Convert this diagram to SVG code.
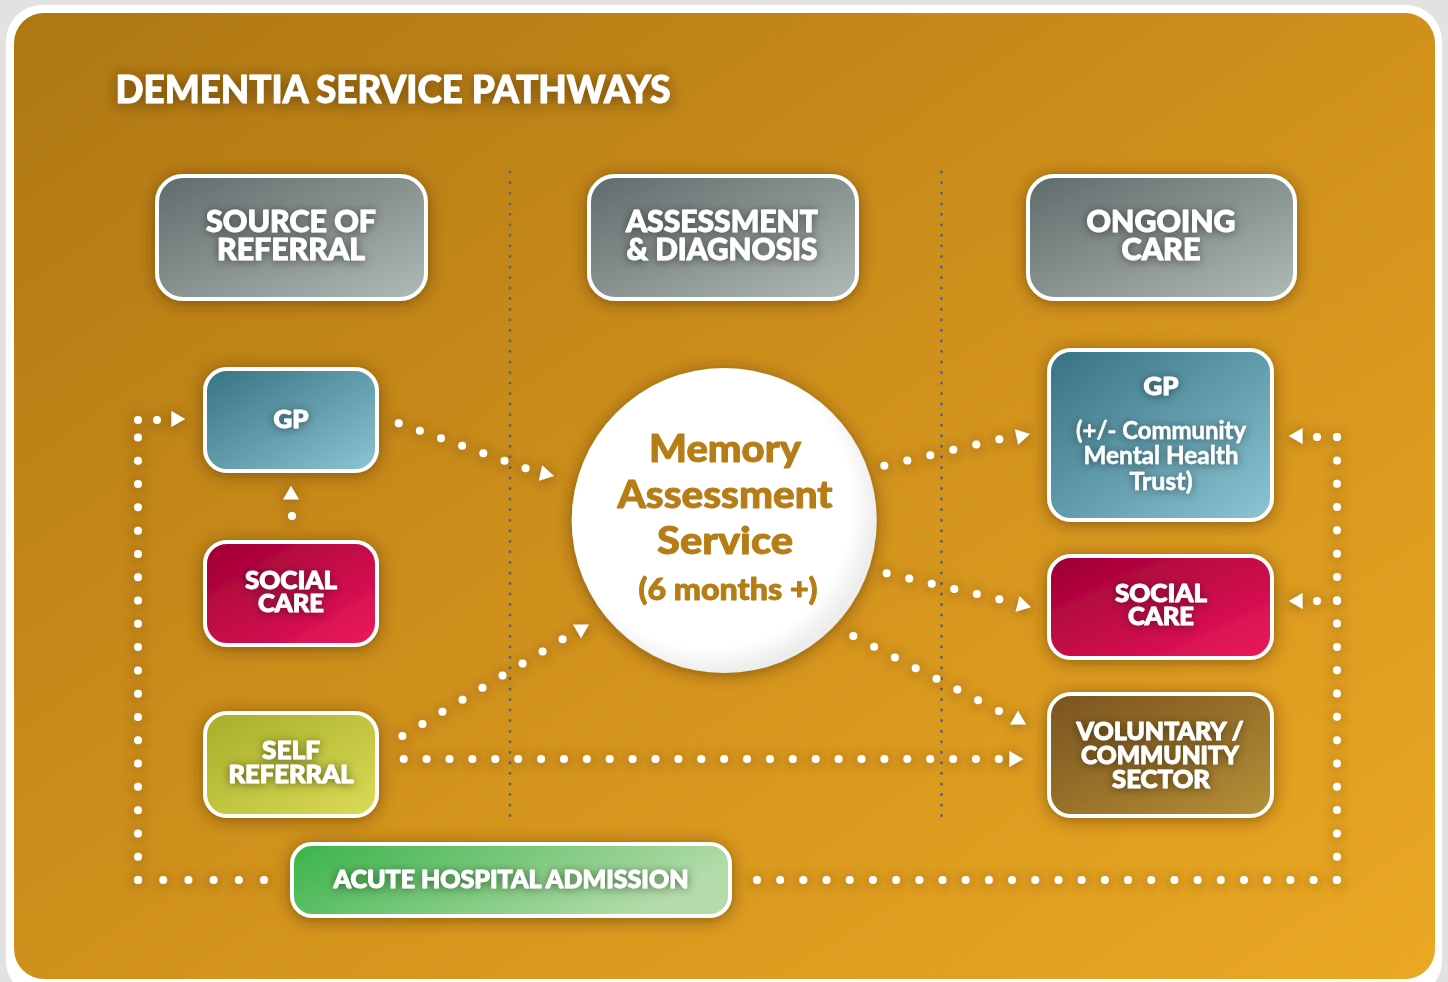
<svg xmlns="http://www.w3.org/2000/svg" xmlns:xlink="http://www.w3.org/1999/xlink" width="1448" height="982" viewBox="0 0 1448 982">
  <defs>
    <linearGradient id="bg" x1="0" y1="0" x2="1" y2="1">
      <stop offset="0" stop-color="#ae7712"/>
      <stop offset="0.5" stop-color="#d0911c"/>
      <stop offset="1" stop-color="#eaa823"/>
    </linearGradient>
    <linearGradient id="gGray" x1="0" y1="0" x2="1" y2="1">
      <stop offset="0" stop-color="#5f6a6a"/>
      <stop offset="1" stop-color="#b0bab7"/>
    </linearGradient>
    <linearGradient id="gBlue" x1="0" y1="0" x2="1" y2="1">
      <stop offset="0" stop-color="#377282"/>
      <stop offset="1" stop-color="#8cc5d4"/>
    </linearGradient>
    <linearGradient id="gRed" x1="0" y1="0" x2="1" y2="1">
      <stop offset="0" stop-color="#9c0034"/>
      <stop offset="1" stop-color="#ee185c"/>
    </linearGradient>
    <linearGradient id="gLime" x1="0" y1="0" x2="1" y2="1">
      <stop offset="0" stop-color="#a6ae28"/>
      <stop offset="1" stop-color="#dbdb57"/>
    </linearGradient>
    <linearGradient id="gBrown" x1="0" y1="0" x2="1" y2="1">
      <stop offset="0" stop-color="#7a531e"/>
      <stop offset="1" stop-color="#b69036"/>
    </linearGradient>
    <linearGradient id="gGreen" x1="0" y1="0" x2="1" y2="0.3">
      <stop offset="0" stop-color="#39b349"/>
      <stop offset="1" stop-color="#b4dcaa"/>
    </linearGradient>
    <radialGradient id="gCircle" cx="0.45" cy="0.45" r="0.55">
      <stop offset="0.85" stop-color="#ffffff"/>
      <stop offset="1" stop-color="#ededed"/>
    </radialGradient>

    <!-- soft dark halos -->
    <filter id="shadow" x="-30%" y="-30%" width="160%" height="160%">
      <feDropShadow dx="0" dy="2" stdDeviation="8" flood-color="#4a2c00" flood-opacity="0.55"/>
    </filter>
    <filter id="dotShadow" x="-10%" y="-10%" width="120%" height="120%">
      <feDropShadow dx="0" dy="1" stdDeviation="6" flood-color="#4a2c00" flood-opacity="0.6"/>
    </filter>
    <filter id="glow" x="-20%" y="-40%" width="140%" height="180%">
      <feDropShadow dx="0" dy="1" stdDeviation="5" flood-color="#000" flood-opacity="0.5"/>
    </filter>
    <filter id="titleGlow" x="-10%" y="-60%" width="120%" height="220%">
      <feDropShadow dx="0" dy="2" stdDeviation="7" flood-color="#3c2400" flood-opacity="0.65"/>
    </filter>

    <path id="ah" d="M9.2,0 L-4.6,8 L-4.6,-8 Z" fill="#fff"/>
  </defs>

  <style>
    .box { stroke: #ffffff; stroke-width: 4; }
    .lbl { font-family: Lato, "Open Sans", "Liberation Sans", sans-serif; font-weight: 900; fill: #ffffff; stroke: #ffffff; stroke-width: 0.9; stroke-linejoin: round; text-anchor: middle; }
    .lbl.thin { font-weight: 700; stroke-width: 0.4; }
    .mas { font-family: Lato, "Open Sans", "Liberation Sans", sans-serif; font-weight: 900; fill: #b67d16; stroke: #b67d16; stroke-width: 0.9; stroke-linejoin: round; text-anchor: middle; }
    .dots { fill: none; stroke: #ffffff; stroke-width: 8; stroke-linecap: round; }
    .guide { fill: none; stroke: #5b6770; stroke-width: 3; stroke-linecap: round; stroke-dasharray: 0 10.55; }
  </style>

  <!-- frame -->
  <rect x="0" y="0" width="1448" height="982" fill="#e2e2e2"/>
  <rect x="6" y="5" width="1436" height="992" rx="36" fill="#ffffff"/>
  <rect x="14" y="13" width="1421" height="966" rx="30" fill="url(#bg)"/>

  <!-- title -->
  <text class="lbl" x="393" y="103" font-size="38" stroke-width="1.2" textLength="555" lengthAdjust="spacingAndGlyphs" filter="url(#titleGlow)">DEMENTIA SERVICE PATHWAYS</text>

  <!-- column separators -->
  <g id="separators">
    <path class="guide" d="M510,172 V816"/>
    <path class="guide" d="M941.5,172 V816"/>
  </g>

  <!-- column headers -->
  <g id="hdr-source" filter="url(#shadow)">
    <rect class="box" x="157" y="176" width="269" height="123" rx="26" fill="url(#gGray)"/>
    <g filter="url(#glow)">
      <text class="lbl" x="291" y="232" font-size="30" textLength="170" lengthAdjust="spacingAndGlyphs">SOURCE OF</text>
      <text class="lbl" x="291" y="260" font-size="30" textLength="148" lengthAdjust="spacingAndGlyphs">REFERRAL</text>
    </g>
  </g>
  <g id="hdr-assessment" filter="url(#shadow)">
    <rect class="box" x="589" y="176" width="268" height="123" rx="26" fill="url(#gGray)"/>
    <g filter="url(#glow)">
      <text class="lbl" x="722" y="232" font-size="30" textLength="192" lengthAdjust="spacingAndGlyphs">ASSESSMENT</text>
      <text class="lbl" x="722" y="260" font-size="30" textLength="191" lengthAdjust="spacingAndGlyphs">&amp; DIAGNOSIS</text>
    </g>
  </g>
  <g id="hdr-ongoing" filter="url(#shadow)">
    <rect class="box" x="1028" y="176" width="267" height="123" rx="26" fill="url(#gGray)"/>
    <g filter="url(#glow)">
      <text class="lbl" x="1161" y="232" font-size="30" textLength="149" lengthAdjust="spacingAndGlyphs">ONGOING</text>
      <text class="lbl" x="1161" y="260" font-size="30" textLength="79" lengthAdjust="spacingAndGlyphs">CARE</text>
    </g>
  </g>

  <!-- connectors -->
  <g id="connectors" filter="url(#dotShadow)">
    <!-- acute admission back to GP (left loop) -->
    <path class="dots" d="M264,880 H138" stroke-dasharray="0 25.19"/>
    <path class="dots" d="M138,880 V437" stroke-dasharray="0 23.29"/>
    <path class="dots" d="M138,420 H157" stroke-dasharray="0 18.99"/>
    <use href="#ah" transform="translate(176,419)"/>
    <!-- social care to GP -->
    <circle cx="292" cy="516" r="4" fill="#fff"/>
    <use href="#ah" transform="translate(291,495) rotate(-90)"/>
    <!-- GP to memory service -->
    <path class="dots" d="M398.7,423.3 L525.7,468.3" stroke-dasharray="0 22.44"/>
    <use href="#ah" transform="translate(545,474) rotate(12)"/>
    <!-- self referral to memory service -->
    <path class="dots" d="M402.4,736 L562.7,639.3" stroke-dasharray="0 23.39"/>
    <use href="#ah" transform="translate(581,629) rotate(90)"/>
    <!-- self referral to voluntary sector -->
    <path class="dots" d="M403.7,759 H999" stroke-dasharray="0 22.89"/>
    <use href="#ah" transform="translate(1014,759)"/>
    <!-- memory service to ongoing care -->
    <path class="dots" d="M884.3,465.7 L999.3,439.3" stroke-dasharray="0 23.59"/>
    <use href="#ah" transform="translate(1021,436) rotate(-12)"/>
    <path class="dots" d="M886.7,573.3 L999.3,599.3" stroke-dasharray="0 23.11"/>
    <use href="#ah" transform="translate(1022,605) rotate(14)"/>
    <path class="dots" d="M853.3,636 L999,711" stroke-dasharray="0 23.40"/>
    <use href="#ah" transform="translate(1018,720) rotate(-90)"/>
    <!-- acute admission to ongoing care (right loop) -->
    <path class="dots" d="M757,880 H1337" stroke-dasharray="0 23.19"/>
    <path class="dots" d="M1337,880 V437" stroke-dasharray="0 23.31"/>
    <path class="dots" d="M1337,437 H1317" stroke-dasharray="0 19.99"/>
    <path class="dots" d="M1337,601 H1317" stroke-dasharray="0 19.99"/>
    <use href="#ah" transform="translate(1298,436) rotate(180)"/>
    <use href="#ah" transform="translate(1298,601) rotate(180)"/>
  </g>

  <!-- source of referral nodes -->
  <g id="gp-left" filter="url(#shadow)">
    <rect class="box" x="205" y="369" width="172" height="102" rx="22" fill="url(#gBlue)"/>
    <text class="lbl" x="291" y="428" font-size="24" textLength="35" lengthAdjust="spacingAndGlyphs" filter="url(#glow)">GP</text>
  </g>
  <g id="social-left" filter="url(#shadow)">
    <rect class="box" x="205" y="542" width="172" height="103" rx="22" fill="url(#gRed)"/>
    <g filter="url(#glow)">
      <text class="lbl" x="291" y="589" font-size="24" textLength="92" lengthAdjust="spacingAndGlyphs">SOCIAL</text>
      <text class="lbl" x="291" y="612" font-size="24" textLength="66" lengthAdjust="spacingAndGlyphs">CARE</text>
    </g>
  </g>
  <g id="self-referral" filter="url(#shadow)">
    <rect class="box" x="205" y="713" width="172" height="103" rx="22" fill="url(#gLime)"/>
    <g filter="url(#glow)">
      <text class="lbl" x="291" y="759" font-size="24" textLength="58" lengthAdjust="spacingAndGlyphs">SELF</text>
      <text class="lbl" x="291" y="783" font-size="24" textLength="125" lengthAdjust="spacingAndGlyphs">REFERRAL</text>
    </g>
  </g>

  <!-- assessment node -->
  <g id="memory-service" filter="url(#shadow)">
    <circle cx="724.2" cy="520.5" r="152.5" fill="url(#gCircle)"/>
    <text class="mas" x="725" y="462" font-size="37" textLength="152" lengthAdjust="spacingAndGlyphs">Memory</text>
    <text class="mas" x="725" y="508" font-size="37" textLength="215" lengthAdjust="spacingAndGlyphs">Assessment</text>
    <text class="mas" x="725" y="554" font-size="37" textLength="136" lengthAdjust="spacingAndGlyphs">Service</text>
    <text class="mas" x="728" y="600" font-size="30" font-weight="700" stroke-width="0.5" textLength="179" lengthAdjust="spacingAndGlyphs">(6 months +)</text>
  </g>

  <!-- ongoing care nodes -->
  <g id="gp-right" filter="url(#shadow)">
    <rect class="box" x="1049" y="350" width="223" height="170" rx="22" fill="url(#gBlue)"/>
    <g filter="url(#glow)">
      <text class="lbl" x="1161" y="395" font-size="24" textLength="35" lengthAdjust="spacingAndGlyphs">GP</text>
      <text class="lbl thin" x="1161" y="439" font-size="24" textLength="170" lengthAdjust="spacingAndGlyphs">(+/- Community</text>
      <text class="lbl thin" x="1161" y="464" font-size="24" textLength="155" lengthAdjust="spacingAndGlyphs">Mental Health</text>
      <text class="lbl thin" x="1161" y="490" font-size="24" textLength="63" lengthAdjust="spacingAndGlyphs">Trust)</text>
    </g>
  </g>
  <g id="social-right" filter="url(#shadow)">
    <rect class="box" x="1049" y="556" width="223" height="102" rx="22" fill="url(#gRed)"/>
    <g filter="url(#glow)">
      <text class="lbl" x="1161" y="602" font-size="24" textLength="92" lengthAdjust="spacingAndGlyphs">SOCIAL</text>
      <text class="lbl" x="1161" y="625" font-size="24" textLength="66" lengthAdjust="spacingAndGlyphs">CARE</text>
    </g>
  </g>
  <g id="voluntary" filter="url(#shadow)">
    <rect class="box" x="1049" y="694" width="223" height="122" rx="22" fill="url(#gBrown)"/>
    <g filter="url(#glow)">
      <text class="lbl" x="1160" y="740" font-size="24" textLength="167" lengthAdjust="spacingAndGlyphs">VOLUNTARY /</text>
      <text class="lbl" x="1160" y="764" font-size="24" textLength="158" lengthAdjust="spacingAndGlyphs">COMMUNITY</text>
      <text class="lbl" x="1161" y="788" font-size="24" textLength="98" lengthAdjust="spacingAndGlyphs">SECTOR</text>
    </g>
  </g>

  <!-- acute admission node -->
  <g id="acute-admission" filter="url(#shadow)">
    <rect class="box" x="292" y="844" width="438" height="72" rx="20" fill="url(#gGreen)"/>
    <text class="lbl" x="511" y="888" font-size="25" stroke-width="0.6" textLength="355" lengthAdjust="spacingAndGlyphs" filter="url(#glow)">ACUTE HOSPITAL ADMISSION</text>
  </g>
</svg>
